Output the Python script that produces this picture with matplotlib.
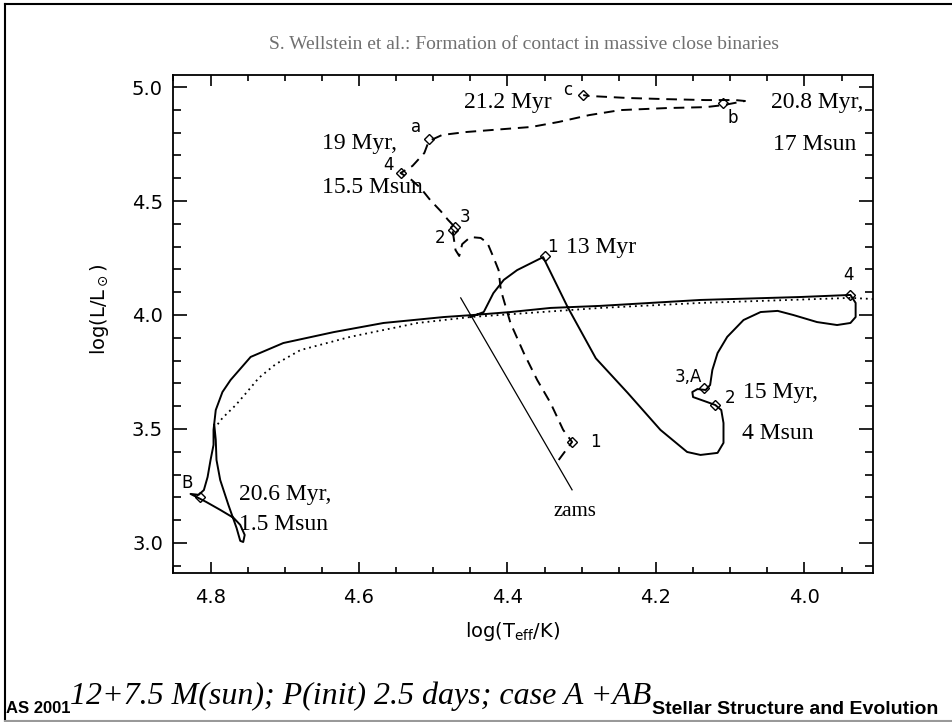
import numpy as np
import matplotlib.pyplot as plt
from matplotlib.lines import Line2D
from matplotlib.ticker import MultipleLocator

# primary star (12 Msun), solid track
prim_logt = [4.450, 4.432, 4.419, 4.405, 4.387, 4.352, 4.319, 4.281, 4.238, 4.194,
             4.158, 4.140, 4.117, 4.109, 4.109, 4.112, 4.120, 4.131, 4.150, 4.151,
             4.144, 4.133, 4.127, 4.124, 4.117, 4.104, 4.082, 4.059, 4.036, 4.015,
             3.983, 3.956, 3.938, 3.931, 3.931, 3.938, 4.005, 4.140, 4.275, 4.342,
             4.396, 4.446, 4.486, 4.567, 4.634, 4.702, 4.746, 4.773, 4.784, 4.793,
             4.796, 4.796, 4.800, 4.804, 4.809, 4.816, 4.827, 4.806, 4.787, 4.769,
             4.760, 4.754, 4.756, 4.760, 4.765, 4.776, 4.787, 4.792, 4.793, 4.795]
prim_logl = [3.991, 4.013, 4.096, 4.154, 4.197, 4.254, 4.035, 3.810, 3.658, 3.496,
             3.399, 3.386, 3.395, 3.439, 3.526, 3.583, 3.605, 3.618, 3.640, 3.662,
             3.675, 3.671, 3.693, 3.759, 3.833, 3.904, 3.978, 4.013, 4.018, 4.000,
             3.969, 3.956, 3.965, 3.991, 4.053, 4.088, 4.079, 4.066, 4.040, 4.031,
             4.013, 4.000, 3.991, 3.965, 3.925, 3.877, 3.816, 3.715, 3.662, 3.583,
             3.496, 3.430, 3.364, 3.289, 3.232, 3.211, 3.215, 3.180, 3.145, 3.110,
             3.079, 3.035, 3.004, 3.009, 3.066, 3.167, 3.276, 3.364, 3.452, 3.518]

# comparison track, dotted
dot_logt = [3.907, 3.938, 4.140, 4.275, 4.450, 4.521, 4.612, 4.679, 4.712, 4.735,
            4.752, 4.766, 4.784, 4.791]
dot_logl = [4.070, 4.075, 4.053, 4.031, 3.991, 3.965, 3.904, 3.846, 3.785, 3.724,
            3.658, 3.605, 3.548, 3.518]

# secondary star (7.5 Msun), dashed track
sec_logt = [4.331, 4.313, 4.325, 4.342, 4.360, 4.378, 4.396, 4.409, 4.412, 4.419,
            4.427, 4.436, 4.450, 4.461, 4.465, 4.470, 4.474, 4.471, 4.480, 4.490,
            4.504, 4.517, 4.529, 4.544, 4.528, 4.512, 4.506, 4.488, 4.455, 4.404,
            4.368, 4.331, 4.290, 4.248, 4.185, 4.133, 4.109, 4.080, 4.093, 4.133,
            4.185, 4.237, 4.290, 4.298]
sec_logl = [3.364, 3.443, 3.496, 3.614, 3.715, 3.833, 3.965, 4.110, 4.197, 4.254,
            4.316, 4.338, 4.342, 4.311, 4.259, 4.285, 4.373, 4.386, 4.417, 4.456,
            4.504, 4.557, 4.592, 4.623, 4.654, 4.711, 4.763, 4.790, 4.803, 4.816,
            4.825, 4.847, 4.877, 4.899, 4.908, 4.912, 4.921, 4.939, 4.943, 4.943,
            4.947, 4.952, 4.961, 4.965]

zams_logt = [4.463, 4.313]
zams_logl = [4.075, 3.233]

# marked evolutionary points
prim_mark_t = [4.349, 4.120, 4.135, 3.938, 4.814]
prim_mark_l = [4.259, 3.605, 3.680, 4.088, 3.202]
sec_mark_t = [4.313, 4.474, 4.471, 4.544, 4.506, 4.109, 4.298]
sec_mark_l = [3.443, 4.373, 4.386, 4.623, 4.772, 4.930, 4.965]

xticks = [4.8, 4.6, 4.4, 4.2, 4.0]
yticks = [3.0, 3.5, 4.0, 4.5, 5.0]

fig = plt.figure(figsize=(9.52, 7.22), dpi=100)
ax = fig.add_axes([172.7 / 952, 1 - 573 / 722, 700 / 952, 498 / 722])

ax.plot(prim_logt, prim_logl, color='k', lw=1.4)
ax.plot(dot_logt, dot_logl, color='k', lw=1.3, ls=(0, (1, 2.2)))
ax.plot(sec_logt, sec_logl, color='k', lw=1.4, ls=(0, (5.5, 3.5)))
ax.plot(zams_logt, zams_logl, color='k', lw=0.9)
ax.plot(prim_mark_t, prim_mark_l, ls='none', marker='D', ms=5.5, mfc='none', mec='k', mew=1)
ax.plot(sec_mark_t, sec_mark_l, ls='none', marker='D', ms=5.5, mfc='none', mec='k', mew=1)

ax.set_xlim(4.851, 3.908)
ax.set_ylim(2.868, 5.053)
ax.set_xticks(xticks)
ax.set_xticklabels([f'{v:.1f}' for v in xticks])
ax.set_yticks(yticks)
ax.set_yticklabels([f'{v:.1f}' for v in yticks])
ax.xaxis.set_minor_locator(MultipleLocator(0.05))
ax.yaxis.set_minor_locator(MultipleLocator(0.1))
ax.tick_params(which='both', direction='in', top=True, right=True, width=1.2, labelsize=14)
ax.tick_params(axis='x', which='major', length=8, pad=11)
ax.tick_params(axis='x', which='minor', length=4)
ax.tick_params(axis='y', which='major', length=10, pad=7)
ax.tick_params(axis='y', which='minor', length=5.5)
for s in ax.spines.values():
    s.set_linewidth(1.3)

ax.set_xlabel(r'log(T$_{\rm eff}$/K)', fontsize=14)
ax.set_ylabel(r'log(L/L$_\odot$)', fontsize=14)
ax.xaxis.set_label_coords(0.485, -0.095)
ax.xaxis.label.set_va('top')
ax.yaxis.set_label_coords(-0.088, 0.53)

serif = dict(family='Liberation Serif', fontsize=17, va='center', ha='left')
ax.text(4.458, 4.934, '21.2 Myr', **serif)
ax.text(4.0445, 4.934, '20.8 Myr,', **serif)
ax.text(4.042, 4.746, '17 Msun', **serif)
ax.text(4.6505, 4.754, '19 Myr,', **serif)
ax.text(4.6505, 4.561, '15.5 Msun', **serif)
ax.text(4.3205, 4.298, '13 Myr', **serif)
ax.text(4.0822, 3.662, '15 Myr,', **serif)
ax.text(4.0835, 3.482, '4 Msun', **serif)
ax.text(4.7623, 3.2105, '20.6 Myr,', **serif)
ax.text(4.7623, 3.079, '1.5 Msun', **serif)
ax.text(4.3098, 3.136, 'zams', family='Liberation Serif', fontsize=15, va='center', ha='center')

small = dict(family='DejaVu Sans', fontsize=12, va='center', ha='center')
ax.text(4.3192, 4.987, 'c', **small)
ax.text(4.0970, 4.864, 'b', **small)
ax.text(4.5226, 4.825, 'a', **small)
ax.text(4.5603, 4.658, '4', **small)
ax.text(4.4566, 4.430, '3', **small)
ax.text(4.4902, 4.338, '2', **small)
ax.text(4.3394, 4.298, '1', **small)
ax.text(3.9408, 4.175, '4', **small)
ax.text(4.1562, 3.728, '3,A', **small)
ax.text(4.0997, 3.636, '2', **small)
ax.text(4.2815, 3.443, '1', **small)
ax.text(4.8310, 3.263, 'B', **small)

fig.text(0.55, 0.9377, 'S. Wellstein et al.: Formation of contact in massive close binaries',
         family='Liberation Serif', fontsize=14, color='#707070', ha='center', va='center')

fig.text(0.0063, 0.0125, 'AS 2001', family='Liberation Sans', fontweight='bold', fontsize=12,
         ha='left', va='baseline')
fig.text(0.0735, 0.0249, '12+7.5 M(sun); P(init) 2.5 days; case A +AB', family='Liberation Serif',
         style='italic', fontsize=23, ha='left', va='baseline')
fig.text(0.9853, 0.011, 'Stellar Structure and Evolution', family='Liberation Sans',
         fontweight='bold', fontsize=14, ha='right', va='baseline')

# slide frame
fig.add_artist(Line2D([5 / 952, 5 / 952], [1 / 722, 1 - 4 / 722], color='k', lw=1.5))
fig.add_artist(Line2D([5 / 952, 1], [1 - 4 / 722, 1 - 4 / 722], color='k', lw=1.5))
fig.add_artist(Line2D([5 / 952, 1], [1.5 / 722, 1.5 / 722], color='#999999', lw=1.5))

fig.savefig('out.png', dpi=100)
